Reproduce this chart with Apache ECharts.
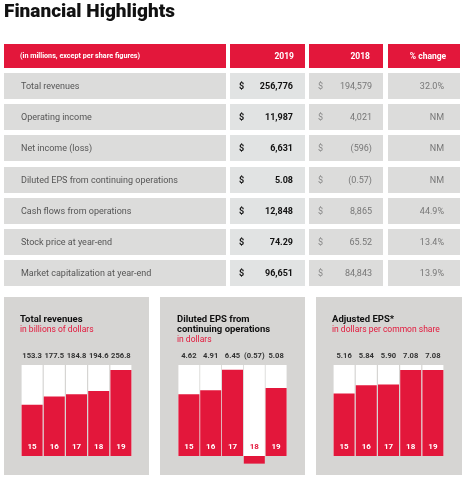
<!DOCTYPE html>
<html><head><meta charset="utf-8">
<script src="https://cdn.jsdelivr.net/npm/echarts@6/dist/echarts.min.js"></script>
<style>html,body{margin:0;padding:0;background:#fff}#c{width:466px;height:480px}</style>
</head><body><div id="c"></div>
<script>
// ---- table data ----
var tableHeader = ['(in millions, except per share figures)', '2019', '2018', '% change'];
var rowLabels = ['Total revenues', 'Operating income', 'Net income (loss)', 'Diluted EPS from continuing operations', 'Cash flows from operations', 'Stock price at year-end', 'Market capitalization at year-end'];
var values2019 = ['256,776', '11,987', '6,631', '5.08', '12,848', '74.29', '96,651'];
var values2018 = ['194,579', '4,021', '(596)', '(0.57)', '8,865', '65.52', '84,843'];
var pctChange = ['32.0%', 'NM', 'NM', 'NM', '44.9%', '13.4%', '13.9%'];

// ---- mini charts data ----
var years = ['15', '16', '17', '18', '19'];
var revenues = [153.3, 177.5, 184.8, 194.6, 256.8];
var dilutedEps = [4.62, 4.91, 6.45, -0.57, 5.08];
var adjustedEps = [5.16, 5.84, 5.90, 7.08, 7.08];

var RED = '#e3173b';
var FONT = 'Roboto, "Liberation Sans", sans-serif';

var graphics = [];
function rect(x, y, w, h, fill) { graphics.push({type: 'rect', shape: {x: x, y: y, width: w, height: h}, style: {fill: fill}, silent: true}); }
function text(t, x, y, opts) {
  graphics.push({type: 'text', x: x, y: y, silent: true, style: Object.assign({text: t, fill: '#555', fontFamily: FONT, fontSize: 10, fontWeight: 'normal', align: 'left', verticalAlign: 'middle'}, opts || {})});
}

// title
text('Financial Highlights', 4, 12, {fill: '#111', fontSize: 19, fontWeight: 900});

// table layout
var cols = [{x: 4, w: 222}, {x: 230, w: 75}, {x: 309, w: 74}, {x: 388, w: 72}];
cols.forEach(function (c) { rect(c.x, 44, c.w, 24, RED); });
text(tableHeader[0], 20, 56.5, {fill: '#fff', fontSize: 7.2, fontWeight: 'bold'});
text(tableHeader[1], 294, 56.5, {fill: '#fff', fontSize: 8.5, fontWeight: 'bold', align: 'right'});
text(tableHeader[2], 370, 56.5, {fill: '#fff', fontSize: 8.5, fontWeight: 'bold', align: 'right'});
text(tableHeader[3], 428, 56.5, {fill: '#fff', fontSize: 8.5, fontWeight: 'bold', align: 'center'});

rowLabels.forEach(function (lab, i) {
  var y = Math.round(73 + i * 31.17);
  var cy = y + 13.5;
  rect(cols[0].x, y, cols[0].w, 26, '#dcdcdb');
  rect(cols[1].x, y, cols[1].w, 26, '#e1e3e3');
  rect(cols[2].x, y, cols[2].w, 26, '#dcdcdb');
  rect(cols[3].x, y, cols[3].w, 26, '#dcdcdb');
  text(lab, 21, cy, {fill: '#555', fontSize: 9});
  text('$', 239, cy, {fill: '#111', fontSize: 9, fontWeight: 'bold'});
  text(values2019[i], 293, cy, {fill: '#111', fontSize: 9, fontWeight: 'bold', align: 'right'});
  text('$', 318, cy, {fill: '#888', fontSize: 9});
  text(values2018[i], 372, cy, {fill: '#777', fontSize: 9, align: 'right'});
  text(pctChange[i], 444, cy, {fill: '#777', fontSize: 9, align: 'right'});
});

// panels
var panels = [
  {x: 4, w: 145, gl: 21, gw: 111, data: revenues, max: 272, dec: 1, title: ['Total revenues'], sub: 'in billions of dollars'},
  {x: 160, w: 145, gl: 178, gw: 109, data: dilutedEps, max: 6.8, dec: 2, title: ['Diluted EPS from', 'continuing operations'], sub: 'in dollars'},
  {x: 316, w: 146, gl: 333, gw: 111, data: adjustedEps, max: 7.5, dec: 2, title: ['Adjusted EPS*'], sub: 'in dollars per common share'}
];

var grids = [], xAxes = [], yAxes = [], series = [];
panels.forEach(function (p, k) {
  rect(p.x, 297, p.w, 178, '#d6d5d3');
  var ty = 320;
  p.title.forEach(function (t, j) { text(t, p.gl - 1, ty + j * 9.5, {fill: '#111', fontSize: 9.5, fontWeight: 'bold'}); });
  text(p.sub, p.gl - 1, ty + p.title.length * 9.5 + 0.5, {fill: RED, fontSize: 8.5});

  grids.push({left: p.gl, top: 365, width: p.gw, height: 91, containLabel: false});
  var vals = p.data;
  xAxes.push({type: 'category', gridIndex: k, data: years, position: 'bottom', z: 10,
    axisLine: {show: false}, axisTick: {show: false},
    axisLabel: {inside: true, interval: 0, margin: 5, fontFamily: FONT, fontSize: 8, fontWeight: 'bold',
      color: function (v, idx) { return vals[idx] < 0 ? RED : '#fff'; }}});
  xAxes.push({type: 'category', gridIndex: k, data: years, position: 'top', z: 10,
    axisLine: {show: false}, axisTick: {show: false},
    axisLabel: {interval: 0, margin: 5, fontFamily: FONT, fontSize: 7.6, fontWeight: 'bold', color: '#333',
      formatter: function (v, idx) { var n = vals[idx]; var s = Math.abs(n).toFixed(p.dec); return n < 0 ? '(' + s + ')' : s; }}});
  yAxes.push({type: 'value', gridIndex: k, min: 0, max: p.max, show: false, splitLine: {show: false}});
  series.push({type: 'bar', xAxisIndex: k * 2, yAxisIndex: k, data: vals, barWidth: 21, clip: false,
    showBackground: true, backgroundStyle: {color: '#fff'},
    itemStyle: {color: RED}, silent: true, z: 3});
});

var chart = echarts.init(document.getElementById('c'), null, {renderer: 'canvas'});
chart.setOption({
  animation: false,
  grid: grids, xAxis: xAxes, yAxis: yAxes, series: series,
  graphic: {elements: graphics}
});
</script></body></html>
